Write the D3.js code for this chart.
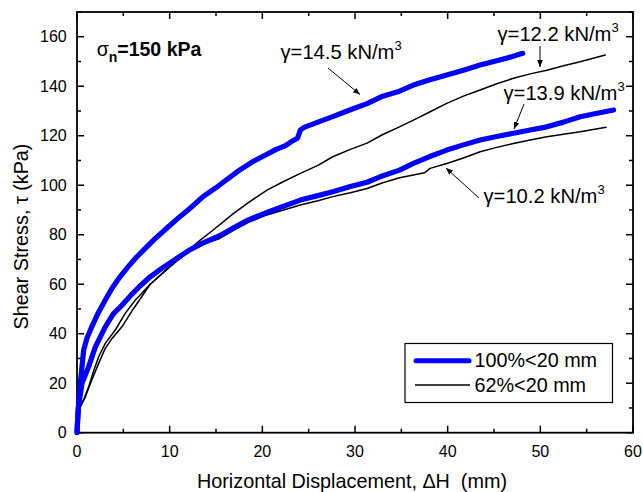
<!DOCTYPE html>
<html><head><meta charset="utf-8">
<script src="https://d3js.org/d3.v7.min.js"></script>
<style>body{margin:0;background:#fff}svg{display:block}text{font-family:"Liberation Sans",Arial,Helvetica,sans-serif}</style>
</head><body>
<script>
// Data (x = horizontal displacement mm, y = shear stress kPa)
const blue145 = [[0,0],[0.1,8],[0.36,20],[0.72,33.4],[1.1,38.5],[1.6,42.8],[2.3,48.5],[3.05,53.6],[3.8,58.5],[4.64,63],[5.5,67],[6.44,71],[7.5,75],[8.6,79],[9.8,83],[11.1,87.3],[12.3,91],[13.6,95.4],[15,99],[16.1,102.1],[17.5,106],[19,109.6],[20.5,112.5],[21.5,114.5],[22.5,116],[23.3,118],[23.8,119],[24.1,122.3],[24.5,123.4],[26,125.5],[27.6,127.7],[29.5,130.5],[31.3,133],[33,136],[34.8,138],[36.3,140.5],[38,142.5],[39.9,144.5],[41.7,146.5],[43.5,148.6],[45.5,150.5],[47,152],[48.1,153.3]];
const blue139 = [[0,0],[0.15,10],[0.54,20],[1.26,26.7],[1.98,34.7],[3.05,42.8],[3.92,48],[4.85,51.5],[5.8,55.5],[6.8,59.3],[7.9,63],[9,66],[10,68.5],[11,71],[12,73.5],[13.5,76.5],[15.4,79.6],[17,83],[18.5,86],[20.5,89],[22.3,91.5],[24.1,94],[26,95.8],[27.6,97.4],[29.5,99.5],[31.3,101.2],[32.7,103.4],[34.8,106.1],[36.3,108.8],[38,111.5],[39.9,114.2],[41.7,116.3],[43.5,118.3],[45.3,119.7],[47.1,121],[48.9,122.3],[50.7,123.6],[52.5,125.5],[54.3,127.7],[56,129],[57.9,130.4]];
const black122 = [[0,0],[0.2,6],[0.36,10.5],[0.8,14],[1.26,18.6],[1.8,25],[2.34,30.7],[3.05,36.1],[4.13,41.5],[5.2,48.2],[6.3,53.6],[7.9,60],[10,67],[11.5,72],[13.3,77.8],[14.7,81.9],[16.9,88.6],[18.5,93],[20.5,98],[22.3,101.5],[24.1,104.8],[26,108],[27.6,111.5],[29.5,114.5],[31.3,117],[33,120.5],[34.8,123.6],[36.3,126.3],[38,129.5],[39.9,133.1],[41.7,136],[43.5,138.5],[45.3,141],[47.1,143.2],[48.9,145],[50.7,146.5],[52.5,148.3],[54.3,149.9],[55.7,151.3],[57,152.6]];
const black102 = [[0,0],[0.2,6],[0.36,10.5],[0.9,14.5],[1.6,21.3],[2.34,28],[3.05,34.1],[3.78,38.1],[4.85,42.8],[6,49.6],[7.9,60],[10,67],[11.5,71.5],[12.9,75.2],[15.4,78.5],[17,82],[18.5,85],[20.5,88],[22.3,90],[24.1,92],[26,93.7],[27.6,95.4],[29.5,97],[31.3,98.7],[33,101],[34.8,103],[36.3,104.1],[37.5,105],[38.1,106.8],[39.9,108.8],[41.7,111],[43.5,113.5],[45.3,115.3],[47.1,116.9],[48.9,118.3],[50.7,119.6],[52.5,120.6],[54.3,121.6],[55.7,122.5],[57.1,123.4]];
const xTicks = [0,10,20,30,40,50,60];
const yTicks = [0,20,40,60,80,100,120,140,160];
const legendLabels = ["100%<20 mm","62%<20 mm"];

const W=643,H=492;
const L=77,R=633,T=12,B=432.7;
const svg=d3.select("body").append("svg").attr("width",W).attr("height",H);
const x=d3.scaleLinear().domain([0,60]).range([L,R]);
const y=d3.scaleLinear().domain([0,170]).range([B,T]);
const minorX=d3.range(0,61,5), minorY=d3.range(0,171,10);

function tickLen(v,step){return v%step===0?7:4;}
const g=svg.append("g");
minorX.forEach(v=>{
  g.append("line").attr("x1",x(v)).attr("x2",x(v)).attr("y1",B).attr("y2",B-tickLen(v,10)).attr("stroke","#000").attr("stroke-width",1.5);
  g.append("line").attr("x1",x(v)).attr("x2",x(v)).attr("y1",T).attr("y2",T+tickLen(v,10)).attr("stroke","#000").attr("stroke-width",1.5);
});
minorY.forEach(v=>{
  g.append("line").attr("x1",L).attr("x2",L+tickLen(v,20)).attr("y1",y(v)).attr("y2",y(v)).attr("stroke","#000").attr("stroke-width",1.5);
  g.append("line").attr("x1",R).attr("x2",R-tickLen(v,20)).attr("y1",y(v)).attr("y2",y(v)).attr("stroke","#000").attr("stroke-width",1.5);
});
g.append("rect").attr("x",L).attr("y",T).attr("width",R-L).attr("height",B-T).attr("fill","none").attr("stroke","#000").attr("stroke-width",1.8);
xTicks.forEach(v=>g.append("text").attr("x",x(v)).attr("y",456.7).attr("text-anchor","middle").attr("font-size",16).text(v));
yTicks.forEach(v=>g.append("text").attr("x",66.7).attr("y",y(v)+5.6).attr("text-anchor","end").attr("font-size",16).text(v));

svg.append("text").attr("x",352).attr("y",488).attr("text-anchor","middle").attr("font-size",19.8).attr("xml:space","preserve").text("Horizontal Displacement, \u0394H  (mm)");
svg.append("text").attr("transform","translate(27.5,236.5) rotate(-90)").attr("text-anchor","middle").attr("font-size",19.8).text("Shear Stress, \u03c4 (kPa)");

// curves
const line=d3.line().x(d=>x(d[0])).y(d=>y(d[1]));
[[black122,"#000",1.5],[black102,"#000",1.5],[blue145,"#0000ff",5.2],[blue139,"#0000ff",5.2]].forEach(([d,c,w])=>{
  svg.append("path").attr("d",line(d)).attr("fill","none").attr("stroke",c).attr("stroke-width",w).attr("stroke-linejoin","round").attr("stroke-linecap","round");
});

// annotations
const sig=svg.append("text").attr("x",96.7).attr("y",56).attr("font-size",19.5);
sig.append("tspan").text("\u03c3");
sig.append("tspan").attr("font-size",14).attr("font-weight","bold").attr("dy",6).text("n");
sig.append("tspan").attr("font-weight","bold").attr("dy",-6).text("=150 kPa");

function gammaLabel(tx,ty,val){
  const t=svg.append("text").attr("x",tx).attr("y",ty).attr("font-size",20.2);
  t.append("tspan").text(`\u03b3=${val} kN/m`);
  t.append("tspan").attr("font-size",13).attr("dy",-9).text("3");
}
gammaLabel(280.5,58.5,"14.5");
gammaLabel(497.5,40.5,"12.2");
gammaLabel(503.5,100,"13.9");
gammaLabel(483.5,203,"10.2");

svg.append("defs").append("marker").attr("id","ah").attr("viewBox","0 0 10 10").attr("refX",10).attr("refY",5)
  .attr("markerWidth",7).attr("markerHeight",7).attr("markerUnits","userSpaceOnUse").attr("orient","auto")
  .append("path").attr("d","M0,1 L10,5 L0,9 Z").attr("fill","#000");
[[328,68,360,94.5],[540,46,540,67],[524,104,514,129],[479,198,446,168]].forEach(a=>{
  svg.append("line").attr("x1",a[0]).attr("y1",a[1]).attr("x2",a[2]).attr("y2",a[3]).attr("stroke","#000").attr("stroke-width",1).attr("marker-end","url(#ah)");
});

// legend
svg.append("rect").attr("x",405).attr("y",343.5).attr("width",207.5).attr("height",59).attr("fill","#fff").attr("stroke","#000").attr("stroke-width",1.2);
svg.append("line").attr("x1",416).attr("x2",469).attr("y1",360.7).attr("y2",360.7).attr("stroke","#0000ff").attr("stroke-width",5).attr("stroke-linecap","round");
svg.append("line").attr("x1",415).attr("x2",470).attr("y1",385).attr("y2",385).attr("stroke","#000").attr("stroke-width",1.5);
svg.append("text").attr("x",474.5).attr("y",366.7).attr("font-size",19.8).text(legendLabels[0]);
svg.append("text").attr("x",474.5).attr("y",392.2).attr("font-size",19.8).text(legendLabels[1]);
</script>
</body></html>
